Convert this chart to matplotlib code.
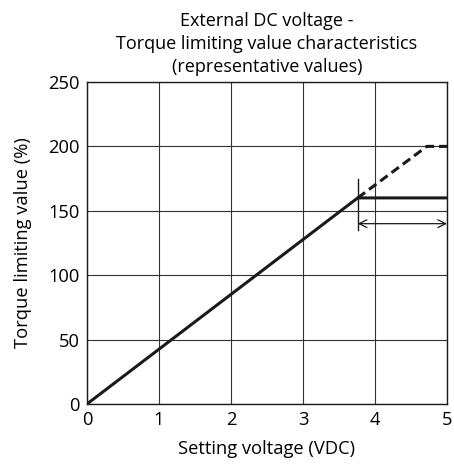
import matplotlib
matplotlib.use('Agg')
from matplotlib import pyplot as plt

plt.rcParams['font.family'] = ['Open Sans', 'DejaVu Sans']

# data
volt_solid = [0, 3.76, 5]
torque_solid = [0, 160, 160]
volt_dash = [3.76, 4.72, 5]
torque_dash = [160, 200, 200]
range_start = 3.76
range_end = 5
range_level = 140
marker_low = 135
marker_high = 175

xticks = [0, 1, 2, 3, 4, 5]
yticks = [0, 50, 100, 150, 200, 250]

fig = plt.figure(figsize=(4.54, 4.69), dpi=100)
ax = fig.add_axes([0.1916, 0.1386, 0.793, 0.6866])

ax.plot(volt_solid, torque_solid, color='#1a1a1a', lw=2.2, solid_capstyle='butt')
ax.plot(volt_dash, torque_dash, color='#1a1a1a', lw=2.2, ls=(0, (3, 1.6)))

# range marker and double arrow
ax.plot([range_start, range_start], [marker_low, marker_high], color='#1a1a1a', lw=1)
ax.annotate('', xy=(range_end, range_level), xytext=(range_start, range_level),
            arrowprops=dict(arrowstyle='<->', color='#1a1a1a', lw=0.9,
                            mutation_scale=14, shrinkA=0, shrinkB=0))

ax.set_xlim(0, 5)
ax.set_ylim(0, 250)
ax.set_xticks(xticks)
ax.set_yticks(yticks)
ax.grid(True, color='#333333', lw=0.8)
ax.tick_params(length=0, labelsize=13.2, pad=5)
for s in ax.spines.values():
    s.set_linewidth(1)
    s.set_color('#1a1a1a')

ax.set_xlabel('Setting voltage (VDC)', fontsize=13.2, labelpad=8)
ax.set_ylabel('Torque limiting value (%)', fontsize=13.2, labelpad=12)
ax.set_title('External DC voltage -\nTorque limiting value characteristics\n(representative values)',
             fontsize=13, linespacing=1.35, pad=7)

fig.savefig('out.png', dpi=100)
